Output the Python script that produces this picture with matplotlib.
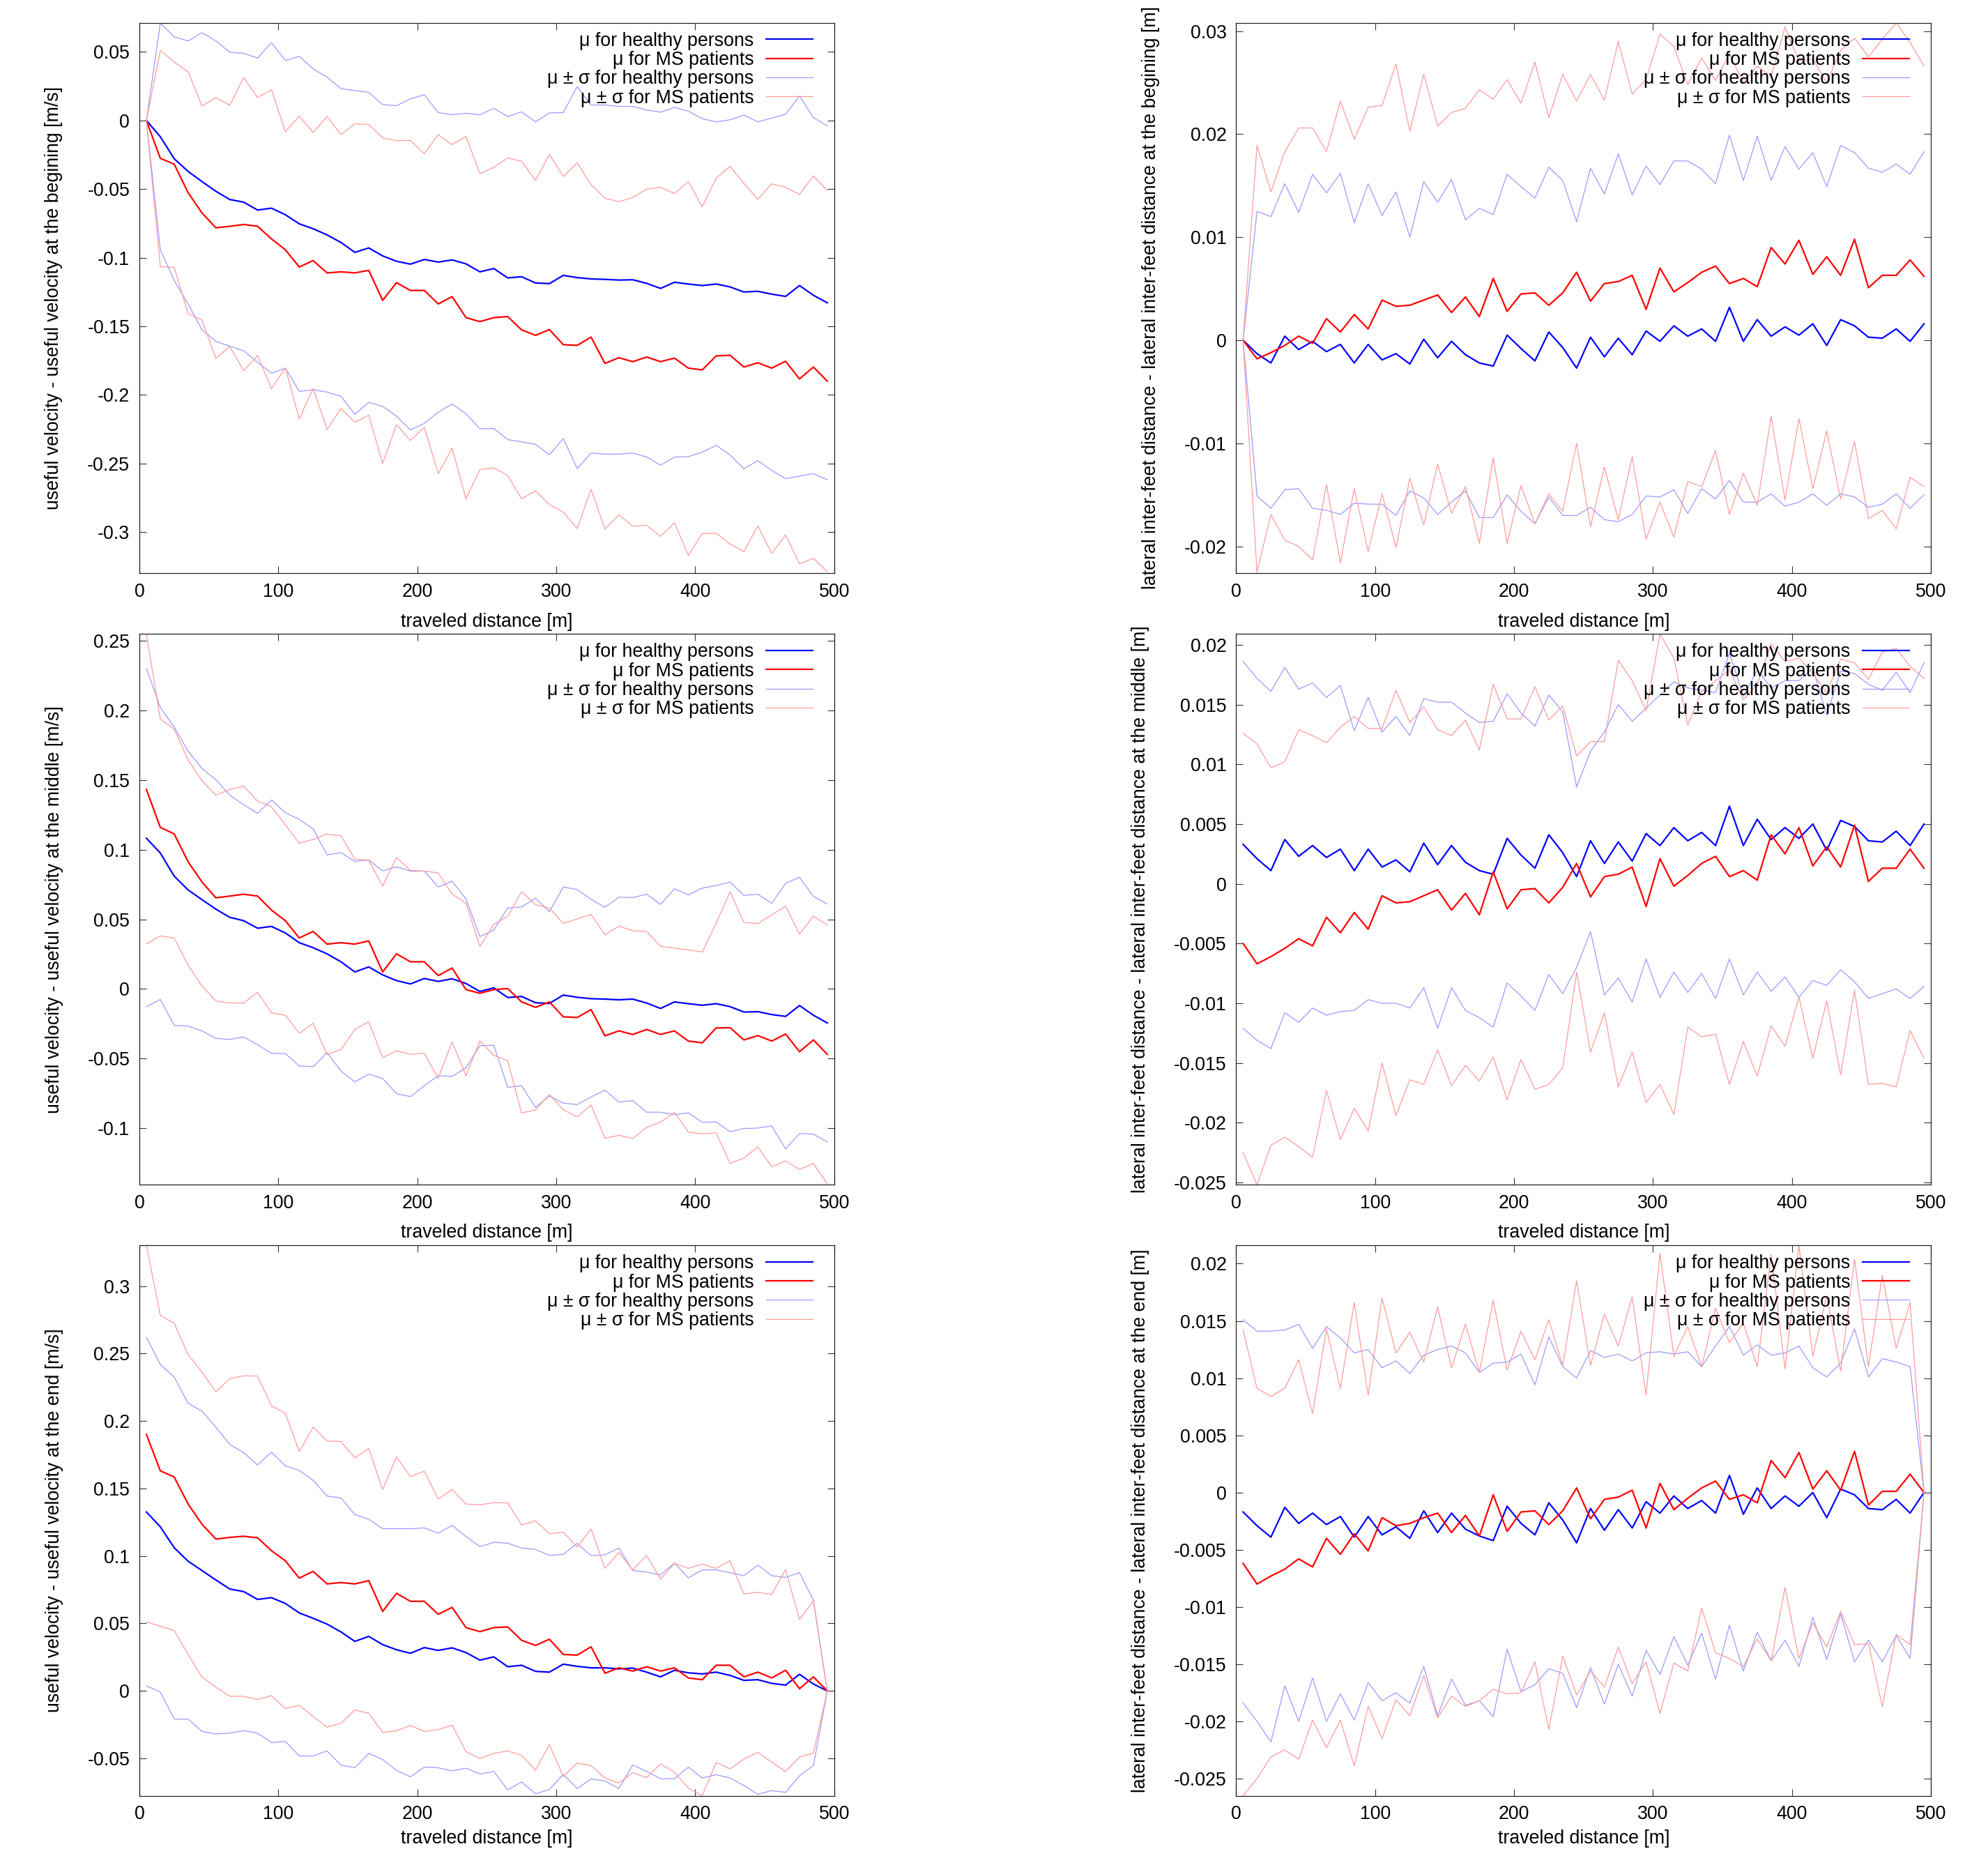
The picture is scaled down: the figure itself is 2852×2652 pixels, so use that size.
import numpy as np
import matplotlib
matplotlib.use('Agg')
import matplotlib.pyplot as plt
from matplotlib.ticker import FuncFormatter, MultipleLocator

# ---------------- data ----------------
distance = list(range(5, 500, 10))  # traveled distance [m]

# top-left: useful velocity - useful velocity at the begining
tl_mu_h = [0, -0.0118, -0.0279, -0.0371, -0.0445, -0.0516, -0.0576, -0.0595, -0.0653, -0.0639,
           -0.0687, -0.0753, -0.0789, -0.0834, -0.0889, -0.0961, -0.0929, -0.0987, -0.1026, -0.1047,
           -0.1013, -0.1032, -0.1016, -0.1045, -0.1103, -0.1079, -0.1147, -0.1139, -0.1184, -0.1189,
           -0.1129, -0.1145, -0.1155, -0.1158, -0.1163, -0.1161, -0.1187, -0.1224, -0.1179, -0.1192,
           -0.1203, -0.1192, -0.1213, -0.125, -0.1245, -0.1266, -0.1282, -0.1203, -0.1274, -0.1329]
tl_mu_ms = [0, -0.0276, -0.0318, -0.0526, -0.0674, -0.0782, -0.0771, -0.0758, -0.0771, -0.0863,
            -0.0942, -0.1068, -0.1021, -0.1111, -0.1103, -0.1111, -0.1092, -0.1311, -0.1182, -0.1239,
            -0.1239, -0.1337, -0.1284, -0.1437, -0.1466, -0.1437, -0.1429, -0.1526, -0.1566, -0.1524,
            -0.1634, -0.1639, -0.1579, -0.1771, -0.1729, -0.1758, -0.1724, -0.1758, -0.1732, -0.1805,
            -0.1818, -0.1716, -0.1711, -0.1797, -0.1766, -0.1805, -0.1755, -0.1884, -0.1797, -0.19]
tl_hi_h = [0, 0.071, 0.061, 0.058, 0.064, 0.058, 0.0497, 0.049, 0.0455, 0.0568,
           0.0437, 0.0468, 0.0376, 0.0316, 0.0232, 0.0218, 0.0205, 0.0116, 0.0108, 0.0158,
           0.0187, 0.0058, 0.0042, 0.0053, 0.0042, 0.0089, 0.0029, 0.0063, -0.001, 0.0055,
           0.0058, 0.0247, 0.0113, 0.0113, 0.0103, 0.0103, 0.0076, 0.0061, 0.0095, 0.0068,
           0.0013, -0.001, 0.0005, 0.0039, -0.001, 0.0018, 0.0045, 0.0179, 0.0021, -0.0039]
tl_lo_h = [0, -0.0942, -0.1166, -0.1337, -0.1526, -0.161, -0.1645, -0.1679, -0.1763, -0.1842,
           -0.1805, -0.1974, -0.1963, -0.1979, -0.2011, -0.2142, -0.2055, -0.2084, -0.2155, -0.2255,
           -0.2208, -0.2126, -0.2066, -0.2139, -0.2247, -0.2245, -0.2326, -0.2342, -0.2361, -0.2437,
           -0.2318, -0.2537, -0.2424, -0.2432, -0.2432, -0.2424, -0.2453, -0.2513, -0.2453, -0.245,
           -0.2418, -0.2368, -0.2437, -0.2539, -0.2479, -0.255, -0.2611, -0.2592, -0.2574, -0.2618]
tl_hi_ms = [0, 0.0511, 0.0426, 0.0355, 0.0105, 0.0168, 0.0111, 0.0313, 0.0168, 0.0224,
            -0.0082, 0.0032, -0.0087, 0.0029, -0.0103, -0.0024, -0.0029, -0.0126, -0.0147, -0.0145,
            -0.0242, -0.0103, -0.0176, -0.0116, -0.0387, -0.0342, -0.0274, -0.0297, -0.0437, -0.0247,
            -0.0408, -0.0308, -0.0468, -0.0566, -0.0592, -0.0561, -0.05, -0.0487, -0.0532, -0.0445,
            -0.0629, -0.0421, -0.0334, -0.0458, -0.0574, -0.0461, -0.0487, -0.0539, -0.0403, -0.0511]
tl_lo_ms = [0, -0.1066, -0.1071, -0.1408, -0.1455, -0.1734, -0.1647, -0.1824, -0.1713, -0.1955,
            -0.1803, -0.2174, -0.1953, -0.2253, -0.21, -0.22, -0.2147, -0.25, -0.2218, -0.2332,
            -0.2237, -0.2574, -0.2389, -0.2758, -0.2545, -0.2532, -0.2589, -0.2758, -0.27, -0.28,
            -0.2855, -0.2974, -0.2689, -0.2979, -0.2874, -0.2958, -0.295, -0.3032, -0.2932, -0.3171,
            -0.3011, -0.3008, -0.3087, -0.3142, -0.2955, -0.3155, -0.3021, -0.3232, -0.3192, -0.3289]

# top-right: lateral inter-feet distance - ... at the begining
tr_mu_h = [0, -0.0013, -0.0022, 0.0004, -0.0009, -0.0001, -0.0011, -0.0004, -0.0022, -0.0004,
           -0.0019, -0.0013, -0.0023, 0.0001, -0.0017, -0.0001, -0.0014, -0.0022, -0.0025, 0.0005,
           -0.0008, -0.002, 0.0008, -0.0007, -0.0027, 0.0003, -0.0016, 0.0002, -0.0014, 0.0009,
           -0.0001, 0.0014, 0.0004, 0.0011, -0.0001, 0.0032, -0.0001, 0.002, 0.0004, 0.0013,
           0.0005, 0.0016, -0.0005, 0.002, 0.0014, 0.0003, 0.0002, 0.0011, -0.0001, 0.0016]
tr_mu_ms = [0, -0.0018, -0.0012, -0.0005, 0.0004, -0.0003, 0.0021, 0.0008, 0.0025, 0.0011,
            0.0039, 0.0033, 0.0034, 0.0039, 0.0044, 0.0027, 0.0042, 0.0023, 0.006, 0.0028,
            0.0045, 0.0046, 0.0034, 0.0046, 0.0066, 0.0038, 0.0055, 0.0057, 0.0063, 0.003,
            0.007, 0.0047, 0.0056, 0.0066, 0.0072, 0.0055, 0.006, 0.0052, 0.009, 0.0074,
            0.0097, 0.0064, 0.0081, 0.0063, 0.0098, 0.0051, 0.0063, 0.0063, 0.0078, 0.0062]
tr_hi_h = [0, 0.0125, 0.012, 0.0152, 0.0124, 0.0161, 0.0143, 0.0162, 0.0114, 0.0152,
           0.0121, 0.0144, 0.01, 0.0154, 0.0134, 0.0156, 0.0117, 0.0128, 0.0122, 0.0161,
           0.0149, 0.0138, 0.0168, 0.0155, 0.0115, 0.0167, 0.0142, 0.0181, 0.0141, 0.0169,
           0.0151, 0.0174, 0.0174, 0.0166, 0.0152, 0.0199, 0.0155, 0.0198, 0.0155, 0.0188,
           0.0166, 0.0182, 0.0149, 0.0189, 0.0182, 0.0167, 0.0163, 0.0171, 0.0161, 0.0183]
tr_lo_h = [0, -0.0151, -0.0163, -0.0145, -0.0144, -0.0163, -0.0165, -0.0169, -0.0158, -0.0159,
           -0.0159, -0.017, -0.0146, -0.0153, -0.0169, -0.0157, -0.0146, -0.0172, -0.0172, -0.015,
           -0.0166, -0.0178, -0.0152, -0.017, -0.017, -0.0162, -0.0174, -0.0176, -0.0169, -0.0151,
           -0.0152, -0.0145, -0.0168, -0.0144, -0.0154, -0.0136, -0.0157, -0.0157, -0.0149, -0.0161,
           -0.0157, -0.0149, -0.016, -0.0149, -0.0152, -0.0162, -0.0159, -0.0149, -0.0163, -0.015]
tr_hi_ms = [0, 0.0189, 0.0144, 0.0183, 0.0206, 0.0206, 0.0183, 0.0232, 0.0195, 0.0226,
            0.0228, 0.0268, 0.0203, 0.0258, 0.0208, 0.0221, 0.0225, 0.0243, 0.0234, 0.0253,
            0.023, 0.027, 0.0216, 0.0258, 0.0232, 0.0258, 0.0233, 0.029, 0.0239, 0.0253,
            0.0297, 0.0285, 0.0248, 0.0274, 0.0252, 0.0278, 0.025, 0.0266, 0.0256, 0.0304,
            0.0271, 0.0273, 0.025, 0.0281, 0.0293, 0.0275, 0.0292, 0.0308, 0.0289, 0.0266]
tr_lo_ms = [0, -0.0225, -0.0169, -0.0194, -0.02, -0.0213, -0.014, -0.0216, -0.0144, -0.0205,
            -0.0149, -0.0201, -0.0134, -0.0179, -0.012, -0.0168, -0.0142, -0.0197, -0.0114, -0.0197,
            -0.0141, -0.0178, -0.0149, -0.0166, -0.01, -0.0181, -0.0123, -0.0174, -0.0113, -0.0193,
            -0.0157, -0.0191, -0.0137, -0.0142, -0.0107, -0.0169, -0.0129, -0.016, -0.0074, -0.0155,
            -0.0076, -0.0144, -0.0088, -0.0154, -0.0098, -0.0173, -0.0165, -0.0183, -0.0133, -0.0142]

# middle-left: useful velocity - useful velocity at the middle
ml_mu_h = [0.1082, 0.0976, 0.081, 0.0711, 0.0641, 0.0573, 0.0514, 0.049, 0.0436, 0.0449,
           0.0402, 0.0332, 0.0296, 0.0252, 0.0195, 0.0122, 0.0158, 0.0101, 0.006, 0.0036,
           0.0075, 0.0054, 0.0073, 0.0039, -0.0018, 0.0008, -0.0062, -0.0054, -0.0099, -0.0104,
           -0.0044, -0.006, -0.007, -0.0073, -0.0078, -0.0073, -0.0101, -0.014, -0.0093, -0.0106,
           -0.0117, -0.0106, -0.0127, -0.0166, -0.0163, -0.0184, -0.0197, -0.0119, -0.0189, -0.0244]
ml_mu_ms = [0.1432, 0.116, 0.1113, 0.0913, 0.0768, 0.0654, 0.0667, 0.068, 0.0667, 0.0566,
            0.049, 0.0366, 0.0413, 0.0322, 0.0332, 0.0322, 0.0345, 0.0122, 0.0252, 0.0195,
            0.0195, 0.0096, 0.015, -0.0005, -0.0031, -0.0005, 0.0003, -0.0093, -0.0132, -0.0093,
            -0.02, -0.0205, -0.0148, -0.0337, -0.0301, -0.0327, -0.0291, -0.0327, -0.0301, -0.0374,
            -0.0387, -0.028, -0.0278, -0.0366, -0.0335, -0.0374, -0.0324, -0.0451, -0.0366, -0.047]
ml_hi_h = [0.2302, 0.2021, 0.1881, 0.1707, 0.1583, 0.1502, 0.1391, 0.1323, 0.1261, 0.1357,
           0.1266, 0.1217, 0.1149, 0.0963, 0.0978, 0.0916, 0.0926, 0.0848, 0.0877, 0.0846,
           0.0846, 0.0732, 0.0773, 0.0646, 0.0376, 0.0423, 0.0581, 0.0589, 0.0651, 0.0555,
           0.0732, 0.0714, 0.0643, 0.0586, 0.0659, 0.0656, 0.068, 0.0607, 0.0719, 0.0675,
           0.0724, 0.0742, 0.0768, 0.0672, 0.068, 0.0615, 0.0758, 0.0802, 0.0664, 0.061]
ml_lo_h = [-0.0127, -0.0075, -0.0262, -0.0267, -0.0301, -0.0355, -0.0363, -0.0345, -0.04, -0.0462,
           -0.0464, -0.0553, -0.0558, -0.0457, -0.0589, -0.0667, -0.0612, -0.0643, -0.0752, -0.0773,
           -0.0695, -0.0623, -0.0628, -0.0566, -0.0407, -0.0405, -0.0706, -0.0695, -0.0851, -0.0768,
           -0.082, -0.083, -0.0776, -0.0727, -0.0812, -0.0802, -0.0885, -0.0885, -0.0903, -0.089,
           -0.0957, -0.0955, -0.1025, -0.1002, -0.0999, -0.0983, -0.1149, -0.1038, -0.1043, -0.1098]
ml_hi_ms = [0.2548, 0.1938, 0.1866, 0.1645, 0.1495, 0.1391, 0.1432, 0.1456, 0.1349, 0.1308,
            0.1178, 0.1046, 0.1074, 0.1111, 0.11, 0.0932, 0.0924, 0.0739, 0.0944, 0.0851,
            0.0846, 0.0833, 0.068, 0.0615, 0.0306, 0.0462, 0.0522, 0.0698, 0.0605, 0.0581,
            0.047, 0.0503, 0.0535, 0.0389, 0.0451, 0.0418, 0.0413, 0.0306, 0.0293, 0.028,
            0.0265, 0.0472, 0.0698, 0.0477, 0.047, 0.0532, 0.0594, 0.0394, 0.0522, 0.0459]
ml_lo_ms = [0.0324, 0.0381, 0.0366, 0.0171, 0.0021, -0.0086, -0.0101, -0.0101, -0.0023, -0.0171,
            -0.0189, -0.0319, -0.0246, -0.047, -0.0436, -0.0291, -0.0234, -0.0493, -0.0444, -0.047,
            -0.0462, -0.0641, -0.0379, -0.0623, -0.0374, -0.0477, -0.0516, -0.089, -0.0869, -0.0758,
            -0.0867, -0.0919, -0.0833, -0.1072, -0.1051, -0.1074, -0.0994, -0.0957, -0.0887, -0.1028,
            -0.1041, -0.1033, -0.1253, -0.1214, -0.1134, -0.1277, -0.1235, -0.1297, -0.1253, -0.1399]

# middle-right: lateral inter-feet distance - ... at the middle
mr_mu_h = [0.0033, 0.0021, 0.0011, 0.0037, 0.0023, 0.0032, 0.0022, 0.0029, 0.0011, 0.0029,
           0.0014, 0.002, 0.001, 0.0034, 0.0016, 0.0032, 0.0018, 0.0011, 0.0008, 0.0038,
           0.0024, 0.0013, 0.0041, 0.0026, 0.0006, 0.0036, 0.0017, 0.0035, 0.0019, 0.0042,
           0.0032, 0.0047, 0.0036, 0.0043, 0.0032, 0.0065, 0.0032, 0.0054, 0.0037, 0.0047,
           0.0038, 0.005, 0.0028, 0.0053, 0.0048, 0.0036, 0.0035, 0.0044, 0.0032, 0.005]
mr_mu_ms = [-0.005, -0.0067, -0.0061, -0.0054, -0.0046, -0.0052, -0.0028, -0.0041, -0.0024, -0.0038,
            -0.001, -0.0016, -0.0015, -0.001, -0.0005, -0.0022, -0.0008, -0.0026, 0.001, -0.0021,
            -0.0005, -0.0004, -0.0016, -0.0003, 0.0017, -0.0011, 0.0006, 0.0008, 0.0014, -0.0019,
            0.0021, -0.0002, 0.0007, 0.0017, 0.0023, 0.0006, 0.0011, 0.0003, 0.0041, 0.0025,
            0.0047, 0.0015, 0.0031, 0.0014, 0.0049, 0.0002, 0.0013, 0.0013, 0.0029, 0.0013]
mr_hi_h = [0.0186, 0.0172, 0.0161, 0.0181, 0.0163, 0.0168, 0.0156, 0.0166, 0.0128, 0.0156,
           0.0127, 0.014, 0.0124, 0.0155, 0.0152, 0.0152, 0.0143, 0.0135, 0.0136, 0.0159,
           0.0143, 0.0132, 0.0158, 0.0144, 0.0081, 0.0111, 0.0127, 0.015, 0.0136, 0.0147,
           0.0158, 0.0169, 0.0164, 0.0162, 0.016, 0.0193, 0.0157, 0.0179, 0.0164, 0.017,
           0.017, 0.0181, 0.0141, 0.0178, 0.0176, 0.0167, 0.0162, 0.0177, 0.016, 0.0185]
mr_lo_h = [-0.0121, -0.0131, -0.0138, -0.0108, -0.0116, -0.0104, -0.011, -0.0107, -0.0106, -0.0097,
           -0.01, -0.01, -0.0104, -0.0087, -0.0121, -0.0087, -0.0106, -0.0112, -0.012, -0.0083,
           -0.0094, -0.0106, -0.0076, -0.0092, -0.007, -0.004, -0.0093, -0.0079, -0.0099, -0.0063,
           -0.0095, -0.0074, -0.0091, -0.0075, -0.0096, -0.0063, -0.0093, -0.0074, -0.009, -0.0078,
           -0.0095, -0.0081, -0.0085, -0.0072, -0.0082, -0.0096, -0.0092, -0.0088, -0.0096, -0.0086]
mr_hi_ms = [0.0126, 0.0117, 0.0097, 0.0102, 0.0129, 0.0124, 0.0118, 0.0131, 0.014, 0.013,
            0.013, 0.0162, 0.0135, 0.0148, 0.0129, 0.0124, 0.0137, 0.0112, 0.0167, 0.0138,
            0.0138, 0.0165, 0.0137, 0.0149, 0.0107, 0.0119, 0.0119, 0.0187, 0.017, 0.0145,
            0.0209, 0.0189, 0.0133, 0.0161, 0.017, 0.0179, 0.0154, 0.0167, 0.0201, 0.0186,
            0.0189, 0.0176, 0.016, 0.0188, 0.0185, 0.0171, 0.0194, 0.0197, 0.0182, 0.0172]
mr_lo_ms = [-0.0225, -0.0252, -0.0219, -0.0212, -0.022, -0.0229, -0.0173, -0.0214, -0.0188, -0.0207,
            -0.015, -0.0194, -0.0164, -0.0168, -0.0139, -0.0169, -0.0152, -0.0165, -0.0145, -0.0181,
            -0.0147, -0.0172, -0.0168, -0.0154, -0.0074, -0.0141, -0.0108, -0.017, -0.0141, -0.0183,
            -0.0168, -0.0193, -0.012, -0.0128, -0.0126, -0.0168, -0.0132, -0.0161, -0.0119, -0.0136,
            -0.0095, -0.0146, -0.0098, -0.016, -0.0089, -0.0168, -0.0167, -0.017, -0.0123, -0.0146]

# bottom-left: useful velocity - useful velocity at the end
bl_mu_h = [0.1326, 0.1216, 0.1061, 0.0961, 0.0892, 0.0822, 0.0755, 0.0736, 0.0678, 0.0691,
           0.0648, 0.0578, 0.0538, 0.0495, 0.0437, 0.0367, 0.0404, 0.0343, 0.0305, 0.0279,
           0.0321, 0.03, 0.0319, 0.0284, 0.0228, 0.0252, 0.0179, 0.019, 0.0145, 0.0139,
           0.0198, 0.0182, 0.0171, 0.0171, 0.0163, 0.0169, 0.0139, 0.0104, 0.0153, 0.0134,
           0.0126, 0.0139, 0.0115, 0.0078, 0.0083, 0.0056, 0.0043, 0.0123, 0.0051, 0]
bl_mu_ms = [0.1901, 0.1631, 0.1585, 0.1385, 0.1235, 0.1125, 0.1138, 0.1146, 0.1135, 0.1039,
            0.0964, 0.0836, 0.0886, 0.0793, 0.0803, 0.0793, 0.0817, 0.0589, 0.0723, 0.0664,
            0.0664, 0.0568, 0.0619, 0.0469, 0.0439, 0.0469, 0.0474, 0.0375, 0.0337, 0.0383,
            0.027, 0.0265, 0.0327, 0.0131, 0.0171, 0.0147, 0.0179, 0.0147, 0.0171, 0.0096,
            0.0083, 0.019, 0.019, 0.0104, 0.0139, 0.0096, 0.0153, 0.0016, 0.0104, 0]
bl_hi_h = [0.2619, 0.242, 0.2325, 0.2132, 0.2073, 0.1955, 0.1826, 0.1765, 0.1674, 0.177,
           0.1668, 0.1634, 0.1561, 0.1444, 0.143, 0.1307, 0.1272, 0.1202, 0.1202, 0.1202,
           0.1208, 0.1168, 0.1227, 0.1144, 0.1069, 0.1101, 0.1095, 0.1058, 0.1049, 0.1004,
           0.1012, 0.1093, 0.1002, 0.1009, 0.1058, 0.0892, 0.0881, 0.086, 0.0948, 0.0838,
           0.0897, 0.0897, 0.0876, 0.0854, 0.0932, 0.0854, 0.0841, 0.0876, 0.0672, 0]
bl_lo_h = [0.0037, -0.0008, -0.0209, -0.0209, -0.03, -0.0319, -0.0313, -0.0295, -0.0313, -0.0383,
           -0.0375, -0.0482, -0.0482, -0.0445, -0.0549, -0.057, -0.0463, -0.0509, -0.0589, -0.0637,
           -0.0565, -0.057, -0.0592, -0.0573, -0.0616, -0.0597, -0.0734, -0.0675, -0.0763, -0.0731,
           -0.0619, -0.0723, -0.0653, -0.0667, -0.0723, -0.0549, -0.0597, -0.0651, -0.0651, -0.0565,
           -0.0645, -0.0621, -0.0645, -0.0702, -0.0766, -0.0739, -0.0752, -0.0629, -0.0552, 0]
bl_hi_ms = [0.3302, 0.2783, 0.2724, 0.2493, 0.2362, 0.2217, 0.2314, 0.2335, 0.2333, 0.2113,
            0.2057, 0.1773, 0.1955, 0.1853, 0.1848, 0.1727, 0.1797, 0.1492, 0.1735, 0.1588,
            0.1628, 0.1422, 0.1492, 0.1385, 0.1379, 0.1395, 0.1393, 0.1229, 0.1261, 0.1165,
            0.1176, 0.1066, 0.12, 0.0908, 0.1026, 0.0897, 0.1004, 0.0828, 0.0945, 0.0908,
            0.094, 0.0908, 0.0964, 0.0718, 0.0731, 0.0715, 0.09, 0.0528, 0.0669, 0]
bl_lo_ms = [0.0512, 0.0479, 0.0447, 0.027, 0.0102, 0.0027, -0.004, -0.004, -0.0064, -0.0035,
            -0.0131, -0.0107, -0.019, -0.0268, -0.0241, -0.0142, -0.0166, -0.0308, -0.0295, -0.0257,
            -0.03, -0.0287, -0.0254, -0.045, -0.0501, -0.0463, -0.0445, -0.0477, -0.0587, -0.0399,
            -0.0635, -0.0536, -0.0554, -0.0645, -0.0683, -0.0605, -0.0643, -0.0541, -0.0603, -0.072,
            -0.0777, -0.053, -0.0578, -0.0506, -0.0455, -0.0528, -0.0597, -0.049, -0.0461, 0]

# bottom-right: lateral inter-feet distance - ... at the end
br_mu_h = [-0.0017, -0.0029, -0.0039, -0.0013, -0.0027, -0.0018, -0.0028, -0.0021, -0.0039, -0.0021,
           -0.0037, -0.003, -0.004, -0.0016, -0.0035, -0.0018, -0.0032, -0.0038, -0.0042, -0.0012,
           -0.0027, -0.0037, -0.0009, -0.0024, -0.0044, -0.0014, -0.0033, -0.0015, -0.0031, -0.0008,
           -0.0018, -0.0003, -0.0014, -0.0007, -0.0018, 0.0015, -0.0019, 0.0004, -0.0014, -0.0003,
           -0.0012, 0, -0.0022, 0.0003, -0.0002, -0.0014, -0.0015, -0.0006, -0.0018, 0]
br_mu_ms = [-0.0062, -0.008, -0.0073, -0.0067, -0.0058, -0.0065, -0.004, -0.0054, -0.0036, -0.0051,
            -0.0022, -0.0029, -0.0027, -0.0022, -0.0018, -0.0035, -0.002, -0.0038, -0.0002, -0.0034,
            -0.0017, -0.0016, -0.0028, -0.0016, 0.0004, -0.0023, -0.0006, -0.0004, 0.0002, -0.0031,
            0.0008, -0.0015, -0.0005, 0.0004, 0.001, -0.0006, -0.0002, -0.0009, 0.0028, 0.0013,
            0.0035, 0.0003, 0.0019, 0.0002, 0.0036, -0.0011, 0.0001, 0.0001, 0.0016, 0]
br_hi_h = [0.0151, 0.0141, 0.0141, 0.0142, 0.0147, 0.0126, 0.0145, 0.0135, 0.0122, 0.0125,
           0.0109, 0.0115, 0.0104, 0.012, 0.0125, 0.0128, 0.0122, 0.0105, 0.0113, 0.0114,
           0.0121, 0.0094, 0.0136, 0.011, 0.01, 0.0124, 0.0118, 0.0121, 0.0115, 0.0122,
           0.0123, 0.0121, 0.0123, 0.011, 0.0128, 0.0145, 0.012, 0.0129, 0.012, 0.0122,
           0.0128, 0.0109, 0.0101, 0.0113, 0.0143, 0.0101, 0.0117, 0.0114, 0.011, 0]
br_lo_h = [-0.0184, -0.02, -0.0218, -0.0169, -0.02, -0.0162, -0.02, -0.0176, -0.0199, -0.0166,
           -0.0182, -0.0175, -0.0184, -0.0152, -0.0195, -0.0163, -0.0186, -0.0182, -0.0196, -0.0137,
           -0.0174, -0.0168, -0.0154, -0.0158, -0.0188, -0.0153, -0.0185, -0.015, -0.0178, -0.0138,
           -0.0159, -0.0126, -0.0151, -0.0123, -0.0163, -0.0116, -0.0156, -0.0122, -0.0147, -0.0129,
           -0.0152, -0.0109, -0.0146, -0.0106, -0.0148, -0.0129, -0.0148, -0.0125, -0.0145, 0]
br_hi_ms = [0.0142, 0.0091, 0.0084, 0.0091, 0.0116, 0.0069, 0.0143, 0.0091, 0.0166, 0.0085,
            0.017, 0.0122, 0.014, 0.0114, 0.0162, 0.0109, 0.0147, 0.0105, 0.0168, 0.0107,
            0.0141, 0.0116, 0.0151, 0.0111, 0.0185, 0.0111, 0.0156, 0.0128, 0.0171, 0.0085,
            0.0209, 0.0119, 0.0145, 0.011, 0.0161, 0.0131, 0.0148, 0.011, 0.0208, 0.0108,
            0.0216, 0.0119, 0.0172, 0.0106, 0.0204, 0.011, 0.019, 0.0126, 0.0166, 0]
br_lo_ms = [-0.0265, -0.025, -0.0231, -0.0225, -0.0233, -0.0199, -0.0223, -0.0199, -0.0239, -0.0187,
            -0.0215, -0.0181, -0.0195, -0.016, -0.0197, -0.0178, -0.0187, -0.0182, -0.0172, -0.0176,
            -0.0175, -0.0148, -0.0207, -0.0143, -0.0177, -0.0156, -0.017, -0.0135, -0.0167, -0.0148,
            -0.0193, -0.0149, -0.0156, -0.0101, -0.014, -0.0145, -0.0152, -0.0128, -0.0147, -0.0083,
            -0.0145, -0.0114, -0.0135, -0.0104, -0.0133, -0.0132, -0.0187, -0.0124, -0.0133, 0]

x_label = "traveled distance [m]"
y_labels = {
    "tl": "useful velocity - useful velocity at the begining [m/s]",
    "tr": "lateral inter-feet distance - lateral inter-feet distance at the begining [m]",
    "ml": "useful velocity - useful velocity at the middle [m/s]",
    "mr": "lateral inter-feet distance - lateral inter-feet distance at the middle [m]",
    "bl": "useful velocity - useful velocity at the end [m/s]",
    "br": "lateral inter-feet distance - lateral inter-feet distance at the end [m]",
}
legend_labels = ["\u03bc for healthy persons", "\u03bc for MS patients",
                 "\u03bc \u00b1 \u03c3 for healthy persons", "\u03bc \u00b1 \u03c3 for MS patients"]

# ---------------- style ----------------
plt.rcParams['font.family'] = ['Liberation Sans', 'DejaVu Sans']
FS = 19.3
C_H, C_M = '#0000ff', '#ff0000'
C_HS, C_MS = '#9a9aff', '#ff9a9a'
LW_MU, LW_SD = 1.6, 0.9

fig = plt.figure(figsize=(28.52, 26.52), dpi=100)
W, H = 1568.0, 1458.0
col_x = {'l': 110, 'r': 975}
row_y = {'t': 18, 'm': 500, 'b': 982}
AW, AH = 548, 434

panels = [
    ('tl', 't', 'l', (tl_mu_h, tl_mu_ms, tl_hi_h, tl_lo_h, tl_hi_ms, tl_lo_ms), (-0.330, 0.0712), 0.05),
    ('tr', 't', 'r', (tr_mu_h, tr_mu_ms, tr_hi_h, tr_lo_h, tr_hi_ms, tr_lo_ms), (-0.0226, 0.0308), 0.01),
    ('ml', 'm', 'l', (ml_mu_h, ml_mu_ms, ml_hi_h, ml_lo_h, ml_hi_ms, ml_lo_ms), (-0.1404, 0.2548), 0.05),
    ('mr', 'm', 'r', (mr_mu_h, mr_mu_ms, mr_hi_h, mr_lo_h, mr_hi_ms, mr_lo_ms), (-0.02517, 0.0209), 0.005),
    ('bl', 'b', 'l', (bl_mu_h, bl_mu_ms, bl_hi_h, bl_lo_h, bl_hi_ms, bl_lo_ms), (-0.0777, 0.3302), 0.05),
    ('br', 'b', 'r', (br_mu_h, br_mu_ms, br_hi_h, br_lo_h, br_hi_ms, br_lo_ms), (-0.0265, 0.0216), 0.005),
]

fmt = FuncFormatter(lambda v, p: '0' if abs(v) < 1e-12 else ('%g' % round(v, 6)))

for key, r, c, (mu_h, mu_ms, hi_h, lo_h, hi_ms, lo_ms), ylim, ystep in panels:
    x0 = col_x[c]; y0 = row_y[r]
    ax = fig.add_axes([x0 / W, 1 - (y0 + AH) / H, AW / W, AH / H])
    ax.plot(distance, mu_h, color=C_H, lw=LW_MU, label=legend_labels[0])
    ax.plot(distance, mu_ms, color=C_M, lw=LW_MU, label=legend_labels[1])
    ax.plot(distance, hi_h, color=C_HS, lw=LW_SD, label=legend_labels[2])
    ax.plot(distance, lo_h, color=C_HS, lw=LW_SD)
    ax.plot(distance, hi_ms, color=C_MS, lw=LW_SD, label=legend_labels[3])
    ax.plot(distance, lo_ms, color=C_MS, lw=LW_SD)
    ax.set_xlim(0, 500)
    ax.set_ylim(*ylim)
    ax.xaxis.set_major_locator(MultipleLocator(100))
    ax.yaxis.set_major_locator(MultipleLocator(ystep))
    ax.yaxis.set_major_formatter(fmt)
    ax.tick_params(direction='in', top=True, right=True, length=7, width=0.8,
                   labelsize=FS, pad=10, color='#333333')
    for sp in ax.spines.values():
        sp.set_linewidth(0.9)
        sp.set_color('#222222')
    ax.set_xlabel(x_label, fontsize=FS, labelpad=(6 if r == 'b' else 12))
    ax.set_ylabel(y_labels[key], fontsize=FS, labelpad=25)
    leg = ax.legend(loc='upper right', bbox_to_anchor=(1 - 31 / 997.0, 1 - 13 / 789.0),
                    frameon=False, fontsize=FS, markerfirst=False,
                    handlelength=2.5, handletextpad=0.65, labelspacing=0.05,
                    borderpad=0, borderaxespad=0)
    try:
        for col in leg._legend_handle_box.get_children():
            col.align = 'right'
    except Exception:
        pass

fig.savefig('out.png', dpi=100)
